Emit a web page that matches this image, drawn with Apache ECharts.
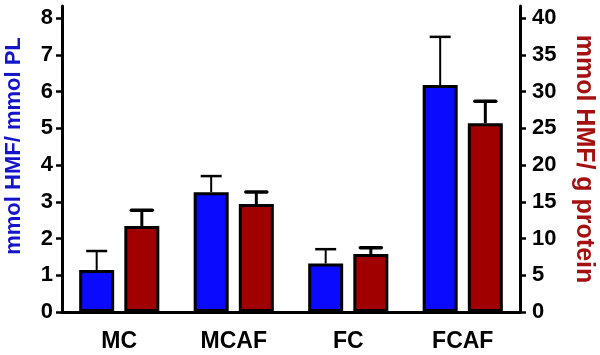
<!DOCTYPE html>
<html>
<head>
<meta charset="utf-8">
<script src="https://cdn.jsdelivr.net/npm/echarts@6/dist/echarts.min.js"></script>
<style>html,body{margin:0;padding:0;background:#fff}#c{width:600px;height:355px}</style>
</head>
<body>
<div id="c"></div>
<script>
var categories = ['MC', 'MCAF', 'FC', 'FCAF'];
var plMean = [1.14, 3.26, 1.32, 6.18];
var plErr = [0.52, 0.44, 0.39, 1.31];
var proteinMean = [11.7, 14.7, 7.9, 25.7];
var proteinErr = [2.15, 1.63, 0.86, 3.0];
var leftTicks = [0, 1, 2, 3, 4, 5, 6, 7, 8];
var rightTicks = [0, 5, 10, 15, 20, 25, 30, 35, 40];

var FONT = 'Liberation Sans, Arial, sans-serif';
var BAR_W = 35;
var BAR_GAP = 0.29;
var BLUE = '#0a0aff';
var RED = '#a00000';

function errSeries(name, means, errs, yIdx, side, lw) {
  return {
    type: 'custom', name: name, yAxisIndex: yIdx, z: 1,
    data: means.map(function (m, i) { return [i, m, errs[i]]; }),
    renderItem: function (params, api) {
      var off = side * (BAR_W + BAR_W * BAR_GAP) / 2;
      var base = api.coord([api.value(0), api.value(1)]);
      var top = api.coord([api.value(0), api.value(1) + api.value(2)]);
      var x = base[0] + off;
      var half = 10.5;
      return {
        type: 'group',
        children: [
          { type: 'line', shape: { x1: x, y1: base[1], x2: x, y2: top[1] },
            style: { stroke: '#000', lineWidth: lw } },
          { type: 'line', shape: { x1: x - half, y1: top[1], x2: x + half, y2: top[1] },
            style: { stroke: '#000', lineWidth: lw + 0.5, lineCap: side > 0 ? 'round' : 'butt' } }
        ]
      };
    }
  };
}

var chart = echarts.init(document.getElementById('c'), null, { renderer: 'canvas' });
chart.setOption({
  animation: false,
  backgroundColor: '#fff',
  grid: { left: 62, right: 80, top: 6, bottom: 43, containLabel: false, outerBoundsMode: 'none' },
  xAxis: [{
    type: 'category', data: categories, position: 'bottom',
    axisLine: { lineStyle: { color: '#000', width: 3 } },
    axisTick: { show: false },
    axisLabel: { color: '#000', fontFamily: FONT, fontWeight: 'bold', fontSize: 23, margin: 18 }
  }, {
    type: 'category', data: categories, position: 'top',
    axisLine: { show: true, lineStyle: { color: '#000', width: 3 } },
    axisTick: { show: false }, axisLabel: { show: false }
  }],
  yAxis: [{
    type: 'value', min: 0, max: 8.33, position: 'left',
    axisLine: { show: true, lineStyle: { color: '#000', width: 3 } },
    axisTick: { show: true, length: 6, lineStyle: { color: '#000', width: 2.5 }, customValues: leftTicks },
    axisLabel: { color: '#000', fontFamily: FONT, fontWeight: 'bold', fontSize: 22, margin: 9, customValues: leftTicks },
    splitLine: { show: false },
    name: 'mmol HMF/ mmol PL', nameLocation: 'middle', nameGap: 37, nameRotate: 90,
    nameTextStyle: { color: '#1414c8', fontFamily: FONT, fontWeight: 'bold', fontSize: 22, padding: [0, 0, 0, 26] }
  }, {
    type: 'value', min: 0, max: 41.65, position: 'right',
    axisLine: { show: true, lineStyle: { color: '#000', width: 3 } },
    axisTick: { show: true, length: 6, lineStyle: { color: '#000', width: 2.5 }, customValues: rightTicks },
    axisLabel: { color: '#000', fontFamily: FONT, fontWeight: 'bold', fontSize: 22, margin: 12, customValues: rightTicks },
    splitLine: { show: false },
    name: 'mmol HMF/ g protein', nameLocation: 'middle', nameGap: 51, nameRotate: -90,
    nameTextStyle: { color: '#a50f0f', fontFamily: FONT, fontWeight: 'bold', fontSize: 25 }
  }],
  series: [
    { type: 'bar', name: 'PL', yAxisIndex: 0, data: plMean, barWidth: BAR_W, barGap: (BAR_GAP * 100) + '%', z: 2,
      itemStyle: { color: BLUE, borderColor: '#000', borderWidth: 3 } },
    { type: 'bar', name: 'protein', yAxisIndex: 1, data: proteinMean, barWidth: BAR_W, z: 2,
      itemStyle: { color: RED, borderColor: '#000', borderWidth: 3 } },
    errSeries('PL err', plMean, plErr, 0, -1, 2),
    errSeries('protein err', proteinMean, proteinErr, 1, 1, 3)
  ]
});
</script>
</body>
</html>
